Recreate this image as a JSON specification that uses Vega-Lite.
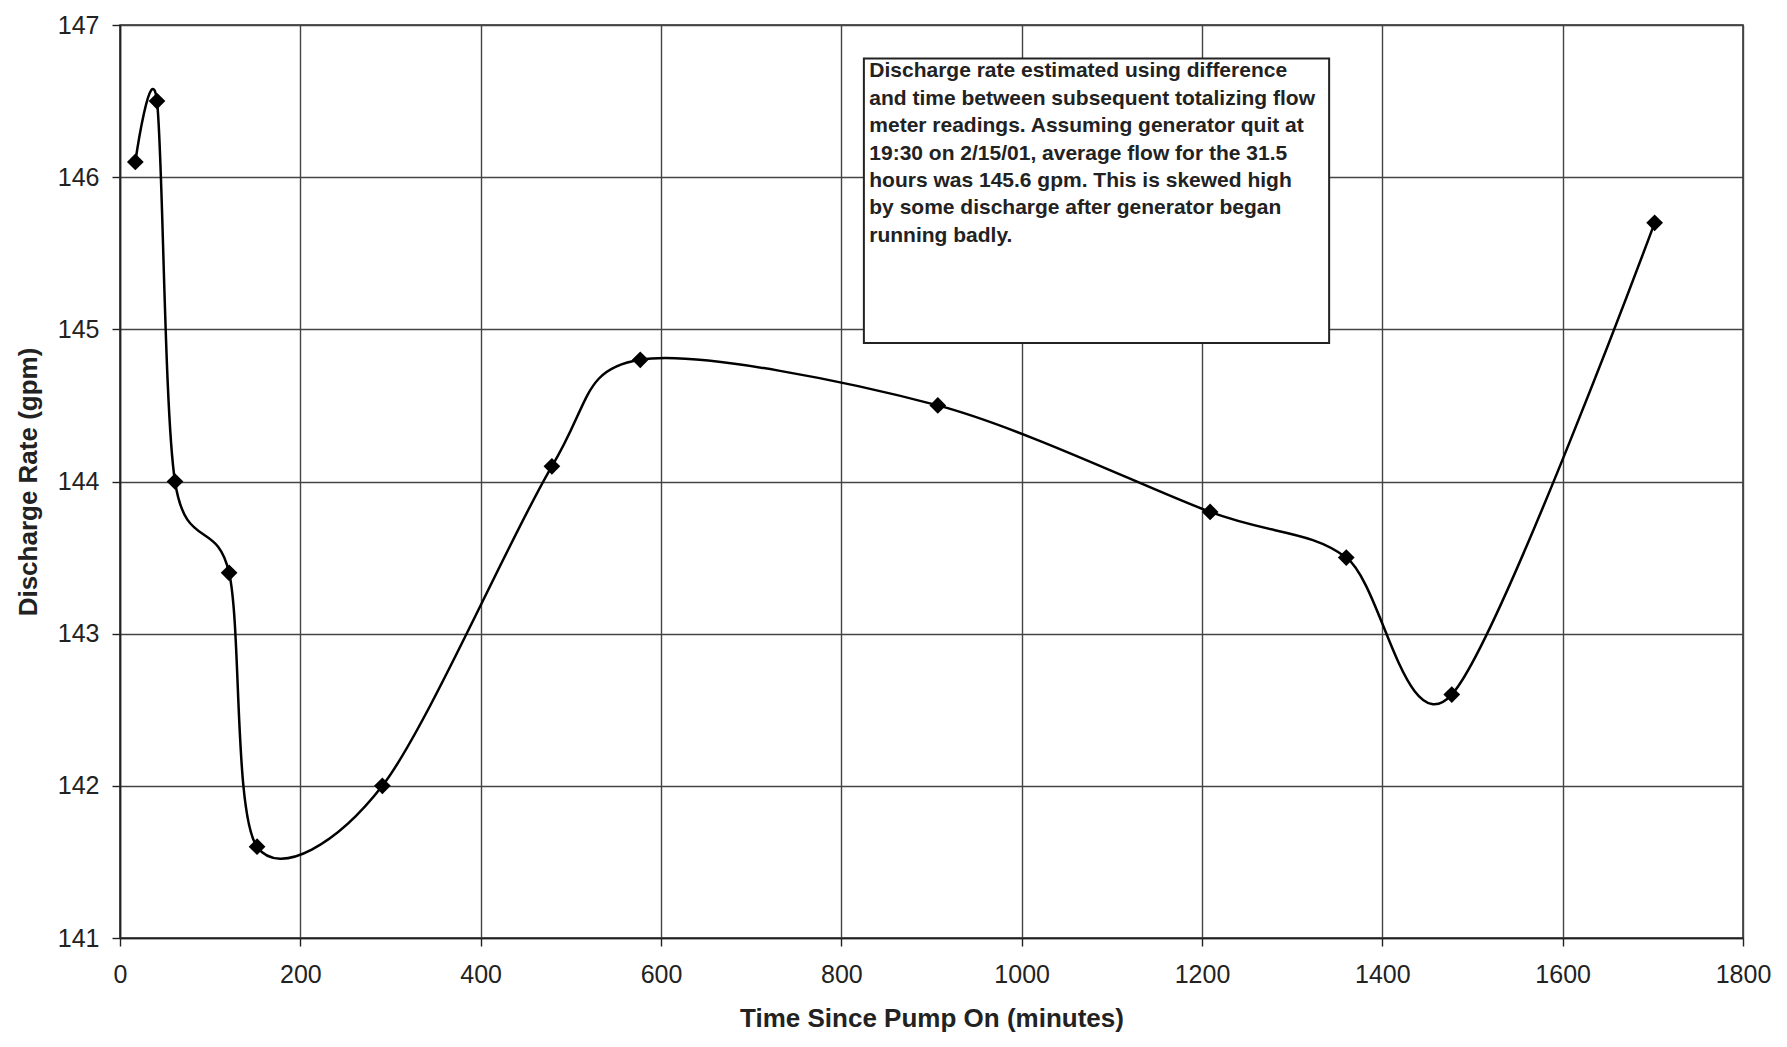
{
  "$schema": "https://vega.github.io/schema/vega-lite/v6.json",
  "width": 1623,
  "height": 913,
  "autosize": {"type": "none"},
  "padding": {"left": 120, "top": 25, "right": 44, "bottom": 109},
  "background": "white",
  "datasets": {
    "readings": [
      {"t": 17, "q": 146.1},
      {"t": 41, "q": 146.5},
      {"t": 61, "q": 144.0},
      {"t": 121, "q": 143.4},
      {"t": 152, "q": 141.6},
      {"t": 291, "q": 142.0},
      {"t": 479, "q": 144.1},
      {"t": 577, "q": 144.8},
      {"t": 907, "q": 144.5},
      {"t": 1209, "q": 143.8},
      {"t": 1360, "q": 143.5},
      {"t": 1477, "q": 142.6},
      {"t": 1702, "q": 145.7}
    ],
    "box": [
      {"t": 825, "t2": 1341, "q": 146.78, "q2": 144.91}
    ],
    "note": [
      {"t": 831, "q": 146.655, "label": [
        "Discharge rate estimated using difference",
        "and time between subsequent totalizing flow",
        "meter readings.  Assuming generator quit at",
        "19:30 on 2/15/01, average flow for the 31.5",
        "hours was 145.6 gpm. This is skewed high",
        "by some discharge after generator began",
        "running badly."
      ]}
    ]
  },
  "config": {
    "view": {"stroke": "#222", "strokeWidth": 1.5},
    "font": "Liberation Sans",
    "axis": {
      "labelFont": "Liberation Sans",
      "labelFontSize": 25,
      "labelColor": "#222",
      "titleFont": "Liberation Sans",
      "titleFontSize": 26,
      "titleFontWeight": "bold",
      "titleColor": "#222",
      "grid": true,
      "gridColor": "#444",
      "gridWidth": 1.4,
      "gridOpacity": 1,
      "domainColor": "#222",
      "domainWidth": 1.6,
      "tickColor": "#222",
      "tickSize": 8,
      "tickWidth": 1.4,
      "labelFlush": false
    }
  },
  "layer": [
    {
      "data": {"name": "readings"},
      "mark": {"type": "line", "interpolate": "cardinal", "tension": 0.1, "color": "black", "strokeWidth": 2.5},
      "encoding": {
        "x": {
          "field": "t", "type": "quantitative",
          "scale": {"domain": [0, 1800], "nice": false, "zero": false},
          "axis": {"title": "Time Since Pump On (minutes)", "values": [0, 200, 400, 600, 800, 1000, 1200, 1400, 1600, 1800], "format": "d", "labelPadding": 16, "titlePadding": 18}
        },
        "y": {
          "field": "q", "type": "quantitative",
          "scale": {"domain": [141, 147], "nice": false, "zero": false},
          "axis": {"title": "Discharge Rate (gpm)", "values": [141, 142, 143, 144, 145, 146, 147], "format": "d", "labelPadding": 13, "titlePadding": 16}
        }
      }
    },
    {
      "data": {"name": "readings"},
      "mark": {"type": "point", "shape": "diamond", "filled": true, "color": "black", "size": 280, "opacity": 1},
      "encoding": {
        "x": {"field": "t", "type": "quantitative", "title": "Time Since Pump On (minutes)"},
        "y": {"field": "q", "type": "quantitative", "title": "Discharge Rate (gpm)"}
      }
    },
    {
      "data": {"name": "box"},
      "mark": {"type": "rect", "fill": "white", "stroke": "#222", "strokeWidth": 2},
      "encoding": {
        "x": {"field": "t", "type": "quantitative", "title": "Time Since Pump On (minutes)"},
        "x2": {"field": "t2"},
        "y": {"field": "q", "type": "quantitative", "title": "Discharge Rate (gpm)"},
        "y2": {"field": "q2"}
      }
    },
    {
      "data": {"name": "note"},
      "mark": {"type": "text", "align": "left", "baseline": "alphabetic", "font": "Liberation Sans", "fontWeight": "bold", "fontSize": 21, "lineHeight": 27.4, "color": "#222"},
      "encoding": {
        "x": {"field": "t", "type": "quantitative", "title": "Time Since Pump On (minutes)"},
        "y": {"field": "q", "type": "quantitative", "title": "Discharge Rate (gpm)"},
        "text": {"field": "label"}
      }
    }
  ]
}
